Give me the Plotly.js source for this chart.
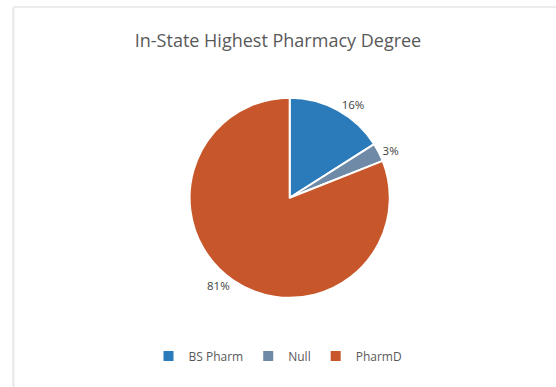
<!DOCTYPE html>
<html>
<head>
<meta charset="utf-8">
<script src="https://cdn.plot.ly/plotly-3.0.1.min.js"></script>
<style>html,body{margin:0;padding:0;background:#fff;}#chart{width:556px;height:387px;}</style>
</head>
<body>
<div id="chart"></div>
<script>
const categories = ["BS Pharm", "Null", "PharmD"];
const values = [16, 3, 81];
const colors = ["#2b7bba", "#6f8aa6", "#c7572b"];

const data = [{
  type: "pie",
  labels: categories,
  values: values,
  sort: false,
  direction: "clockwise",
  rotation: 0,
  marker: {colors: colors, line: {color: "#ffffff", width: 2}},
  textinfo: "percent",
  texttemplate: "%{percent:.0%}",
  textposition: "outside",
  outsidetextfont: {family: "Open Sans, sans-serif", size: 11.5, color: "#3f3f3f"},
  hoverinfo: "label+percent",
  automargin: false,
  domain: {x: [0.341, 0.701], y: [0.23, 0.748]}
}];

const layout = {
  width: 556,
  height: 387,
  margin: {l: 0, r: 0, t: 0, b: 0},
  paper_bgcolor: "#ffffff",
  title: {
    text: "In-State Highest Pharmacy Degree",
    font: {family: "Open Sans, sans-serif", size: 18, color: "#595959"},
    x: 0.5, xanchor: "center", y: 0.895, yanchor: "middle"
  },
  showlegend: true,
  legend: {
    orientation: "h",
    x: 0.5, xanchor: "center",
    y: 0.08, yanchor: "middle",
    font: {family: "Open Sans, sans-serif", size: 12, color: "#595959"},
    itemwidth: 30,
    traceorder: "normal"
  },
  shapes: [
    {type: "line", xref: "paper", yref: "paper", x0: 0.024, x1: 0.024, y0: 0, y1: 0.982, line: {color: "#e6e6e6", width: 2}},
    {type: "line", xref: "paper", yref: "paper", x0: 0.024, x1: 1, y0: 0.982, y1: 0.982, line: {color: "#ececec", width: 2}}
  ]
};

Plotly.newPlot("chart", data, layout, {displayModeBar: false, staticPlot: true});
</script>
</body>
</html>
